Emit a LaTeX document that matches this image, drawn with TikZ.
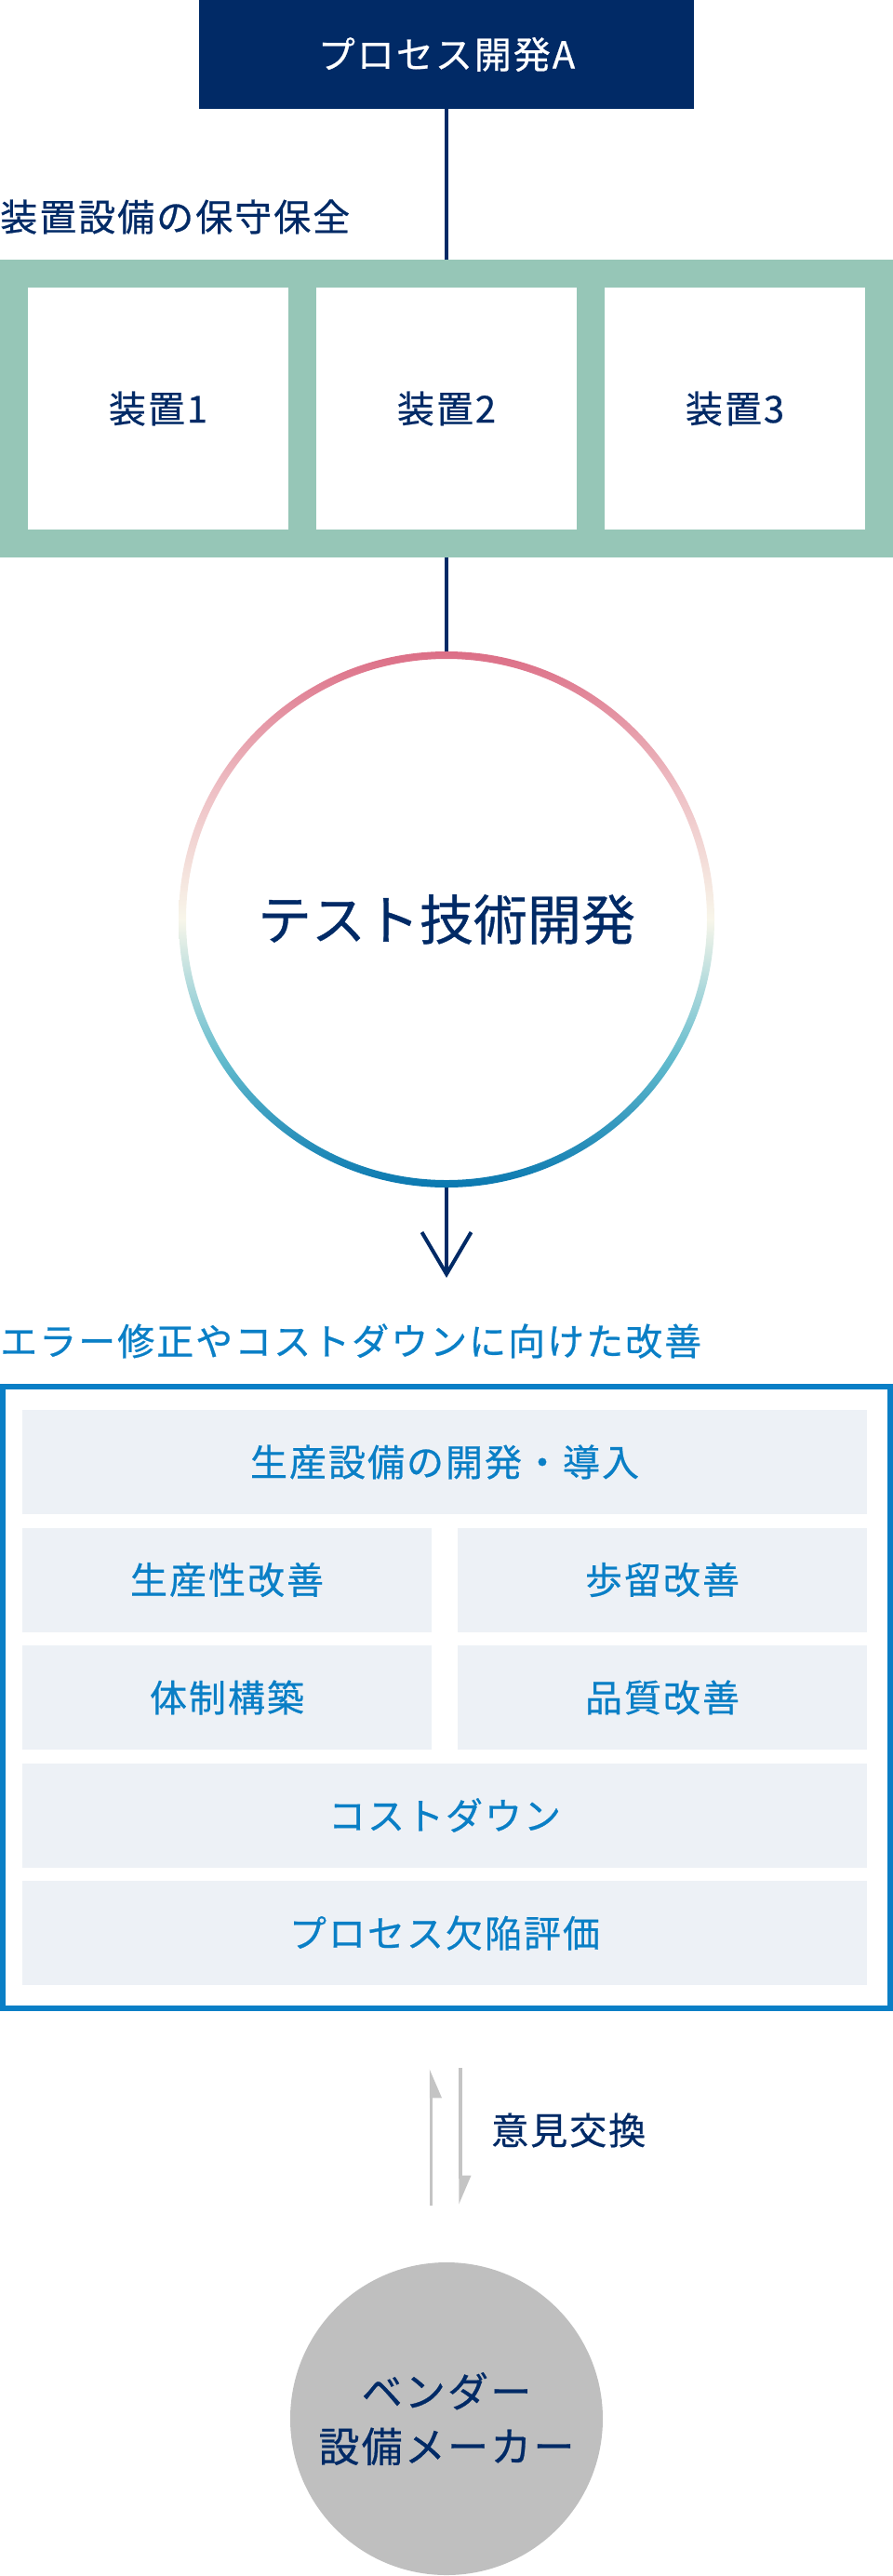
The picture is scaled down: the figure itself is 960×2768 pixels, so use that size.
\documentclass[tikz,border=0pt]{standalone}
\usepackage{fontspec}
\setmainfont{Noto Sans CJK JP}[FakeBold=0.6, LetterSpace=5]
\newfontfamily\ringfont{Noto Sans CJK JP}[FakeBold=0.6]
\usetikzlibrary{arrows.meta}

\definecolor{navy}{HTML}{012A66}
\definecolor{sage}{HTML}{96C6B7}
\definecolor{ocean}{HTML}{0A7FC6}
\definecolor{mist}{HTML}{EDF1F6}
\definecolor{ash}{HTML}{C4C4C4}
\definecolor{pebble}{HTML}{BFBFBF}
\definecolor{ringpink}{HTML}{DC6E86}
\definecolor{ringrose}{HTML}{EEC0C5}
\definecolor{ringcream}{HTML}{F8F6EA}
\definecolor{ringteal}{HTML}{62BBCD}
\definecolor{ringblue}{HTML}{0A78B0}
\pgfdeclareverticalshading{ringshade}{100bp}{color(0bp)=(ringblue); color(25bp)=(ringblue); color(37bp)=(ringteal); color(50bp)=(ringcream); color(62bp)=(ringrose); color(75bp)=(ringpink); color(100bp)=(ringpink)}

\tikzset{
  txt/.style={font=\fontsize{40}{48}\selectfont},
  heading/.style={txt, anchor=west, inner sep=0pt},
  devbox/.style={txt, fill=white, text=navy, minimum width=280pt, minimum height=260pt, inner sep=0pt},
  tilebox/.style={txt, fill=mist, text=ocean, minimum height=112pt, inner sep=0pt},
  link/.style={navy, line width=4pt},
  talk/.style={ash, line width=3.5pt, -{Triangle[harpoon, length=27pt, width=22pt]}}
}

\begin{document}
\begin{tikzpicture}[x=1pt,y=-1pt]
\useasboundingbox (0,0) rectangle (960,2768);
% Prozess
\node[txt, fill=navy, text=white, minimum width=532pt, minimum height=117pt, inner sep=0pt] (proc) at (480,58.5) {プロセス開発A};
\node[heading, text=navy] (caretitle) at (0,233) {装置設備の保守保全};
% Geraete
\node[fill=sage, minimum width=960pt, minimum height=320pt, inner sep=0pt] (rack) at (480,439) {};
\node[devbox] (dev1) at (170,439) {装置1};
\node[devbox] (dev2) at (480,439) {装置2};
\node[devbox] (dev3) at (790,439) {装置3};
\draw[link] (proc.south) -- (rack.north);
% Testtechnik
\node[circle, minimum size=568pt, inner sep=0pt, text=navy, font=\ringfont\fontsize{58}{70}\selectfont] (ring) at (480,988) {テスト技術開発};
\coordinate (tip) at (480,1373);
\draw[link] (rack.south) -- (ring.north);
\draw[link, -{Straight Barb[length=45pt, width=53pt]}] (ring.south) -- (tip);
\shade[shading=ringshade, even odd rule] (ring.center) circle[radius=288pt] (ring.center) circle[radius=280pt];
% Verbesserung
\node[heading, text=ocean] (improvetitle) at (0,1441) {エラー修正やコストダウンに向けた改善};
\draw[ocean, line width=6pt] (3,1490) rectangle (957,2158);
\node[tilebox, minimum width=908pt] (t1) at (478,1571) {生産設備の開発・導入};
\node[tilebox, minimum width=440pt] (t2) at (244,1697.5) {生産性改善};
\node[tilebox, minimum width=440pt] (t3) at (712,1697.5) {歩留改善};
\node[tilebox, minimum width=440pt] (t4) at (244,1824) {体制構築};
\node[tilebox, minimum width=440pt] (t5) at (712,1824) {品質改善};
\node[tilebox, minimum width=908pt] (t6) at (478,1950.5) {コストダウン};
\node[tilebox, minimum width=908pt] (t7) at (478,2077) {プロセス欠陥評価};
% Austausch
\coordinate (upfoot) at (463.5,2370);
\coordinate (uphead) at (463.5,2223);
\coordinate (downfoot) at (495,2222);
\coordinate (downhead) at (495,2369);
\draw[talk, -{Triangle[harpoon, swap, length=27pt, width=22pt]}] (upfoot) -- (uphead);
\draw[talk] (downfoot) -- (downhead);
\node[heading, text=navy] (talktitle) at (528,2289) {意見交換};
\node[circle, fill=pebble, minimum size=336pt, inner sep=0pt, text=navy, align=center, font=\fontsize{44}{59}\selectfont] (vendor) at (480,2599) {ベンダー\\設備メーカー};
\end{tikzpicture}
\end{document}
